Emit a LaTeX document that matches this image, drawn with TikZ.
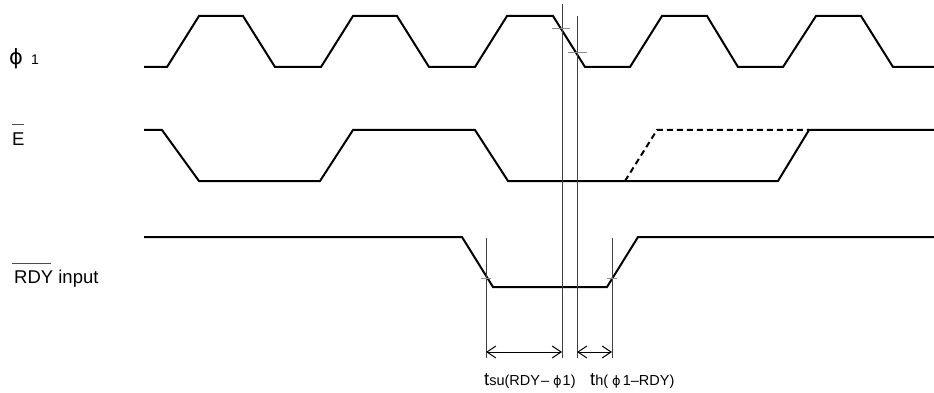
\documentclass[tikz,border=0pt]{standalone}
\usepackage{fontspec}
\setmainfont{Liberation Sans}
\newfontfamily\phifont{DejaVu Sans}
\usetikzlibrary{arrows.meta}
\begin{document}
\begin{tikzpicture}[x=1pt,y=-1pt,
  wave/.style={line width=2pt,line join=miter},
  dashwave/.style={wave,dash pattern=on 6pt off 4pt},
  guide/.style={line width=0.8pt,black!75},
  tick/.style={line width=1pt,black!45},
  bar/.style={line width=0.8pt,black!70},
  dim/.style={line width=1pt,{Straight Barb[length=9pt,width=12pt]}-{Straight Barb[length=9pt,width=12pt]}},
  lbl/.style={inner sep=0pt,anchor=base west,font=\fontsize{18.5}{22}\selectfont}]
\useasboundingbox (0,0) rectangle (934,393);
% labels
\node[lbl] (phi) at (9,65) {{\phifont\fontsize{21}{24}\selectfont ϕ}\hspace{8pt}{\fontsize{14}{16}\selectfont 1}};
\node[lbl] (ebar) at (12,146) {E};
\draw[bar] (12,124) -- (24,124);
\node[lbl] (rdy) at (14,283) {RDY input};
\draw[bar] (12,263) -- (51,263);
% phi1 waveform
\draw[wave] (144,67) -- (167,67) -- (199,16) -- (243,16) -- (275,67) -- (321,67) -- (353,16) -- (397,16) -- (429,67) -- (475,67) -- (507,16) -- (553,16) -- (585,67) -- (630,67) -- (662,16) -- (707,16) -- (738,67) -- (783,67) -- (816,16) -- (861,16) -- (893,67) -- (934,67);
% E waveform
\draw[wave] (144,130) -- (162,130) -- (199,181) -- (320,181) -- (353,130) -- (475,130) -- (508,181) -- (778,181) -- (809,130) -- (934,130);
\draw[dashwave] (625,181) -- (657,130) -- (809,130);
% RDY waveform
\draw[wave] (144,237) -- (462,237) -- (493,287) -- (607,287) -- (638,237) -- (934,237);
% guide lines
\coordinate (g1t) at (562,4);   \coordinate (g1b) at (562,358);
\coordinate (g2t) at (577,16);  \coordinate (g2b) at (577,358);
\coordinate (g3t) at (486,238); \coordinate (g3b) at (486,358);
\coordinate (g4t) at (612,238); \coordinate (g4b) at (612,358);
\draw[guide] (g1t) -- (g1b);
\draw[guide] (g2t) -- (g2b);
\draw[guide] (g3t) -- (g3b);
\draw[guide] (g4t) -- (g4b);
% ticks
\draw[tick] (552,29) -- (570,29);
\draw[tick] (568,53) -- (587,53);
\draw[tick] (481,278) -- (491,278);
\draw[tick] (607,278) -- (617,278);
% dimension arrows
\coordinate (a1) at (486,352); \coordinate (a2) at (562,352);
\coordinate (a3) at (577,352); \coordinate (a4) at (612,352);
\draw[dim] (a1) -- (a2);
\draw[dim] (a3) -- (a4);
% timing labels
\node[lbl] (tsu) at (484,385) {t{\fontsize{14.5}{16}\selectfont su(RDY\kern1pt–\kern4pt{\phifont\fontsize{13}{14}\selectfont ϕ}\kern1pt1)}};
\node[lbl] (th) at (590,385) {t{\fontsize{14.5}{16}\selectfont h(\kern4pt{\phifont\fontsize{13}{14}\selectfont ϕ}\kern2pt1–RDY)}};
\end{tikzpicture}
\end{document}
